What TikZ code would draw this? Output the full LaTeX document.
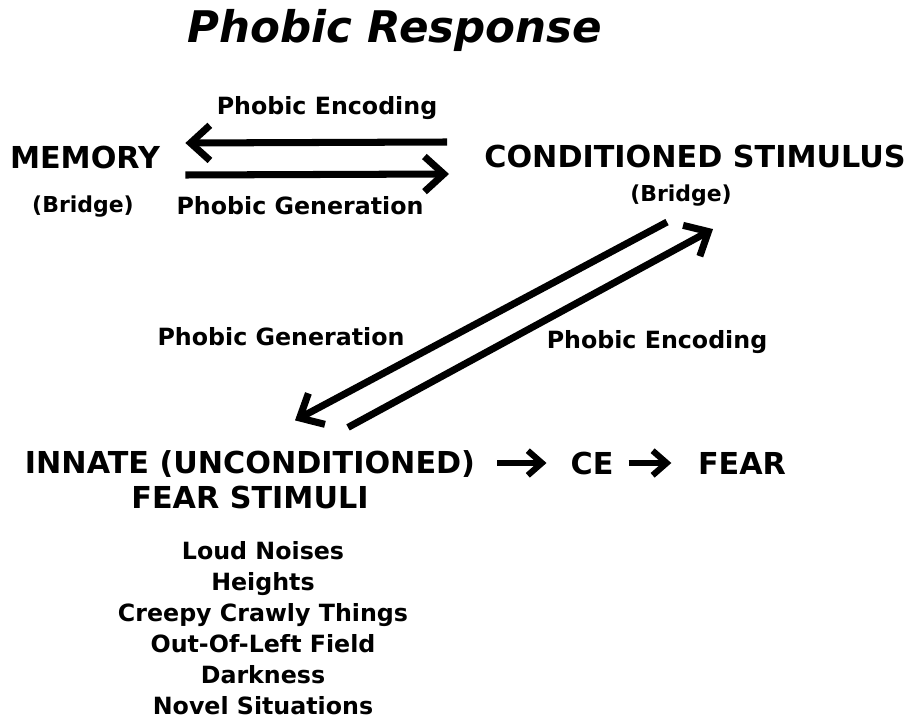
\documentclass[tikz,border=0pt]{standalone}
\usepackage{fontspec}
\setmainfont{DejaVu Sans}
\usetikzlibrary{arrows.meta}

\begin{document}
\begin{tikzpicture}[x=0.02cm,y=-0.02cm]
      \tikzset{
        heading/.style={inner sep=0pt,font=\fontsize{24.8}{28}\selectfont\bfseries\itshape},
        big/.style={inner sep=0pt,font=\fontsize{17.2}{20}\selectfont\bfseries},
        lbl/.style={inner sep=0pt,font=\fontsize{13.5}{17.6}\selectfont\bfseries},
        small/.style={inner sep=0pt,font=\fontsize{12.5}{14}\selectfont\bfseries},
        fat/.style={line width=4pt,-{Straight Barb[length=11pt,width=20pt]}},
        thin/.style={line width=3.5pt,-{Straight Barb[length=8pt,width=14pt]}}
      }
      \useasboundingbox (0,0) rectangle (908,719);

      \node[heading](T) at (395,30) {Phobic Response};
      \node[big](M) at (85,158) {MEMORY};
      \node[small](MB) at (83,207) {(Bridge)};
      \node[big](CS) at (695,157) {CONDITIONED STIMULUS};
      \node[small](CSB) at (681,196) {(Bridge)};
      \node[lbl](E1) at (327,108) {Phobic Encoding};
      \node[lbl](G1) at (300,206) {Phobic Generation};
      \node[lbl](G2) at (281,337) {Phobic Generation};
      \node[lbl](E2) at (657,342) {Phobic Encoding};
      \node[big,align=center](U) at (250,480) {INNATE (UNCONDITIONED)\\FEAR STIMULI};
      \node[big](CE) at (592,463) {CE};
      \node[big](F) at (742,463) {FEAR};
      \node[lbl,align=center](L) at (263,628) {Loud Noises\\Heights\\Creepy Crawly Things\\Out-Of-Left Field\\Darkness\\Novel Situations};

      \draw[fat] ([shift={(-37,-15)}]CS.west) -- ([shift={(25,-15)}]M.east);
      \draw[fat] ([shift={(25,17)}]M.east) -- ([shift={(-35,17)}]CS.west);
      \draw[fat] ([shift={(-14,15)}]CSB.south) -- ([shift={(45,-30)}]U.north);
      \draw[fat] ([shift={(98,-23)}]U.north) -- ([shift={(32,22)}]CSB.south);
      \draw[thin] ([xshift=12.5pt]U.east |- CE.west) -- ([xshift=-13.5pt]CE.west);
      \draw[thin] ([xshift=8.5pt]CE.east) -- ([xshift=-15pt]F.west);
\end{tikzpicture}
\end{document}
